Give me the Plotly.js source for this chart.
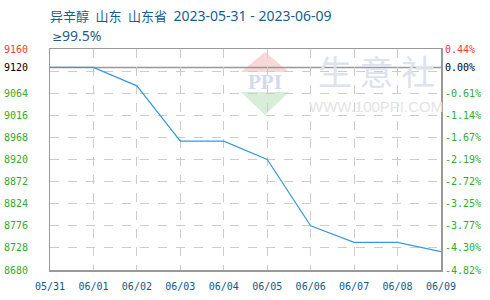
<!DOCTYPE html>
<html>
<head>
<meta charset="utf-8">
<script src="https://cdn.plot.ly/plotly-3.0.1.min.js"></script>
<style>html,body{margin:0;padding:0;background:#fff;}#chart{width:490px;height:300px;}</style>
</head>
<body>
<div id="chart"></div>
<script>
// ---- data ----
var dates = ['05/31','06/01','06/02','06/03','06/04','06/05','06/06','06/07','06/08','06/09'];
var prices = [9120, 9120, 9080, 8960, 8960, 8920, 8776, 8740, 8740, 8720];
var gridVals = [8680, 8728, 8776, 8824, 8872, 8920, 8968, 9016, 9064, 9112, 9160];
var leftLabelVals = [8680, 8728, 8776, 8824, 8872, 8920, 8968, 9016, 9064, 9120, 9160];
var leftLabels = ['8680','8728','8776','8824','8872','8920','8968','9016','9064','9120','9160'];
var rightLabels = ['-4.82%','-4.30%','-3.77%','-3.25%','-2.72%','-2.19%','-1.67%','-1.14%','-0.61%','0.00%','0.44%'];
var titleWords = ['异辛醇', '山东', '山东省'];
var titleDates = '2023-05-31 - 2023-06-09';
var subSymbol = '≥';
var subValue = '99.5%';

var base = prices[0];
var yRange = [gridVals[0], gridVals[gridVals.length - 1]];

function colorize(vals, labels) {
  return labels.map(function (t, i) {
    var v = vals[i];
    var c = v > base ? '#f03a3a' : (v === base ? '#000000' : '#33aa33');
    return '<span style="color:' + c + '">' + t + '</span>';
  });
}

var W = 490, H = 300, L = 50, R = 49, T = 49, B = 30;
var pw = W - L - R, ph = H - T - B;
function px(x) { return (x - L) / pw; }
function py(y) { return (H - B - y) / ph; }

var titleText = titleWords.join('\u2002') + '\u2002' +
  '<span style="font-size:14px">' + titleDates + '</span>';
var subText = '<span style="font-family:DejaVu Sans;font-size:12px">' + subSymbol + '</span>' + subValue;

var traces = [
  {x: dates, y: prices, type: 'scatter', mode: 'lines', line: {color: '#3a98d8', width: 1.2},
   hoverinfo: 'skip', showlegend: false},
  {x: dates, y: prices, type: 'scatter', mode: 'lines', yaxis: 'y2', line: {width: 0},
   opacity: 0, hoverinfo: 'skip', showlegend: false},
  {x: dates, y: prices, type: 'scatter', mode: 'lines', yaxis: 'y3', line: {width: 0},
   opacity: 0, hoverinfo: 'skip', showlegend: false}
];

var monoFont = 'DejaVu Sans Mono, monospace';
var titleFont = 'Noto Sans, Noto Sans CJK SC, sans-serif';

var layout = {
  width: W, height: H,
  margin: {l: L, r: R, t: T, b: B, pad: 0},
  paper_bgcolor: '#ffffff', plot_bgcolor: 'rgba(0,0,0,0)',
  showlegend: false,
  title: {text: titleText, xref: 'container', yref: 'container', x: L / W, xanchor: 'left',
          y: 1 - 16 / H, yanchor: 'middle',
          font: {family: titleFont, size: 13, color: '#1a5d8c'}},
  xaxis: {
    type: 'category', range: [0, dates.length - 1], tickvals: dates, ticktext: dates,
    showgrid: true, gridcolor: '#cccccc', griddash: 'dash', gridwidth: 1,
    showline: true, linecolor: '#999999', linewidth: 1.5, mirror: true,
    ticks: '', zeroline: false, ticklabelstandoff: 6,
    tickfont: {family: monoFont, size: 10, color: '#0d5a8c'}
  },
  yaxis: {
    range: yRange, tickmode: 'array', tickvals: gridVals, showticklabels: false,
    showgrid: true, gridcolor: '#cccccc', griddash: 'dash', gridwidth: 1,
    showline: true, linecolor: '#999999', linewidth: 1.5, mirror: true,
    ticks: '', zeroline: false
  },
  yaxis2: {
    overlaying: 'y', side: 'right', range: yRange, tickmode: 'array',
    tickvals: leftLabelVals, ticktext: colorize(leftLabelVals, rightLabels),
    showgrid: false, zeroline: false, showline: false, ticks: '', ticklabelstandoff: 3,
    tickfont: {family: monoFont, size: 10, color: '#33aa33'}
  },
  yaxis3: {
    overlaying: 'y', side: 'left', range: yRange, tickmode: 'array',
    tickvals: leftLabelVals, ticktext: colorize(leftLabelVals, leftLabels),
    showgrid: false, zeroline: false, showline: false, ticks: '', ticklabelstandoff: 21,
    tickfont: {family: monoFont, size: 10, color: '#33aa33'}
  },
  shapes: [
    {type: 'path', xref: 'paper', yref: 'paper', layer: 'below',
     path: 'M ' + px(265) + ' ' + py(52) + ' L ' + px(289) + ' ' + py(72) + ' L ' + px(241) + ' ' + py(72) + ' Z',
     fillcolor: '#f8d8d6', line: {width: 0}},
    {type: 'path', xref: 'paper', yref: 'paper', layer: 'below',
     path: 'M ' + px(241) + ' ' + py(92) + ' L ' + px(289) + ' ' + py(92) + ' L ' + px(265) + ' ' + py(115) + ' Z',
     fillcolor: '#d8eed9', line: {width: 0}},
    {type: 'line', xref: 'paper', x0: 0, x1: 1, yref: 'y', y0: base, y1: base,
     line: {color: '#999999', width: 1.5}, layer: 'below'}
  ],
  annotations: [
    {text: subText, xref: 'paper', yref: 'paper', x: 0, y: py(35.5), xanchor: 'left', yanchor: 'middle',
     showarrow: false, font: {family: titleFont, size: 14, color: '#1a5d8c'}},
    {text: '<b>PPI</b>', xref: 'paper', yref: 'paper', x: px(265), y: py(82), xanchor: 'center', yanchor: 'middle',
     showarrow: false, font: {family: 'Liberation Serif, serif', size: 21, color: '#d3daea'}},
    {text: '生 意 社', xref: 'paper', yref: 'paper', x: px(376), y: py(70), xanchor: 'center', yanchor: 'middle',
     showarrow: false, font: {family: 'Noto Sans CJK SC, sans-serif', size: 34, color: '#dde2ed'}},
    {text: 'WWW.100PPI.COM', xref: 'paper', yref: 'paper', x: px(376), y: py(106), xanchor: 'center', yanchor: 'middle',
     showarrow: false, font: {family: 'Liberation Sans, Arial, sans-serif', size: 15, color: '#e4e4e4'}}
  ]
};

Plotly.newPlot('chart', traces, layout, {displayModeBar: false, staticPlot: true});
</script>
</body>
</html>
